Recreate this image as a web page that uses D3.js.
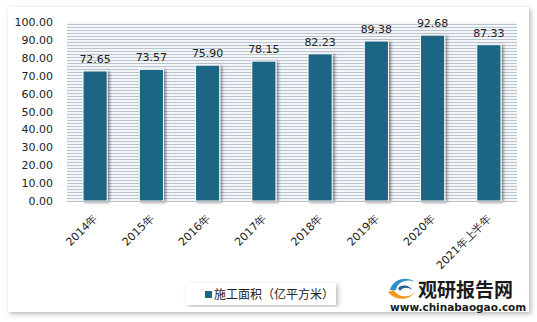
<!DOCTYPE html>
<html>
<head>
<meta charset="utf-8">
<script src="https://cdn.jsdelivr.net/npm/d3@7"></script>
<style>
  body { margin: 0; background: #fff; }
  svg { display: block; }
</style>
</head>
<body>
<div class="chart"></div>
<script>
const years = ["2014年", "2015年", "2016年", "2017年", "2018年", "2019年", "2020年", "2021年上半年"];
const areaValues = [72.65, 73.57, 75.90, 78.15, 82.23, 89.38, 92.68, 87.33];
const yTicks = [0, 10, 20, 30, 40, 50, 60, 70, 80, 90, 100];
const seriesName = "施工面积（亿平方米）";

const w = 537, h = 322;
const plotLeft = 67, plotRight = 517, plotTop = 22, plotBottom = 201;
const barColor = "#1b6585";
const font = "Tahoma, 'DejaVu Sans', sans-serif";

const svg = d3.select(".chart").append("svg")
  .attr("width", w)
  .attr("height", h);

const defs = svg.append("defs");

// card shadow
const cardShadow = defs.append("filter").attr("id", "cardShadow")
  .attr("x", "-5%").attr("y", "-5%").attr("width", "110%").attr("height", "110%");
cardShadow.append("feDropShadow")
  .attr("dx", 2).attr("dy", 2).attr("stdDeviation", 2.5)
  .attr("flood-color", "#000").attr("flood-opacity", 0.28);

// bar shadow
const barShadow = defs.append("filter").attr("id", "barShadow")
  .attr("x", "-30%").attr("y", "-10%").attr("width", "160%").attr("height", "130%");
barShadow.append("feDropShadow")
  .attr("dx", 2).attr("dy", 1).attr("stdDeviation", 1.5)
  .attr("flood-color", "#000").attr("flood-opacity", 0.45);

// striped plot background
const stripes = defs.append("pattern").attr("id", "stripes")
  .attr("patternUnits", "userSpaceOnUse")
  .attr("width", 6).attr("height", 3);
stripes.append("rect").attr("width", 6).attr("height", 3).attr("fill", "#f4f7fa");
stripes.append("rect").attr("y", 0).attr("width", 6).attr("height", 1).attr("fill", "#bcc4cd");

// card
svg.append("rect")
  .attr("x", 8).attr("y", 7)
  .attr("width", 521).attr("height", 305)
  .attr("fill", "#fff")
  .attr("filter", "url(#cardShadow)");

const x = d3.scaleBand()
  .domain(years)
  .range([plotLeft, plotRight])
  .padding(0);

const y = d3.scaleLinear()
  .domain([0, 100])
  .range([plotBottom, plotTop]);

svg.append("rect")
  .attr("x", plotLeft).attr("y", plotTop)
  .attr("width", plotRight - plotLeft).attr("height", plotBottom - plotTop)
  .attr("fill", "url(#stripes)");

// y axis labels
const yAxis = d3.axisLeft(y)
  .tickValues(yTicks)
  .tickSize(0)
  .tickPadding(0)
  .tickFormat(d3.format(".2f"));

svg.append("g")
  .attr("transform", "translate(" + (plotLeft - 14) + ",0)")
  .call(yAxis)
  .call(g => g.select(".domain").remove())
  .selectAll("text")
  .attr("font-family", font)
  .attr("font-size", 11)
  .attr("fill", "#222");

const barW = x.bandwidth() * 0.43;

svg.append("g")
  .selectAll("rect")
  .data(areaValues)
  .enter()
  .append("rect")
  .attr("x", (d, i) => x(years[i]) + (x.bandwidth() - barW) / 2)
  .attr("y", d => y(d))
  .attr("width", barW)
  .attr("height", d => y(0) - y(d))
  .attr("fill", barColor)
  .attr("stroke", "#fff")
  .attr("stroke-width", 1)
  .attr("filter", "url(#barShadow)");

svg.append("g")
  .selectAll("text")
  .data(areaValues)
  .enter()
  .append("text")
  .text(d => d.toFixed(2))
  .attr("x", (d, i) => x(years[i]) + x.bandwidth() / 2)
  .attr("y", d => y(d) - 8)
  .attr("text-anchor", "middle")
  .attr("font-family", font)
  .attr("font-size", 11)
  .attr("fill", "#222");

// x axis baseline
svg.append("line")
  .attr("x1", plotLeft).attr("x2", plotRight)
  .attr("y1", plotBottom + 0.5).attr("y2", plotBottom + 0.5)
  .attr("stroke", "#bfbfbf");

// rotated category labels
svg.append("g")
  .selectAll("text")
  .data(years)
  .enter()
  .append("text")
  .text(d => d)
  .attr("transform", d => "translate(" + (x(d) + x.bandwidth() / 2 + 3) + "," + (plotBottom + 18) + ") rotate(-45)")
  .attr("text-anchor", "end")
  .attr("font-family", font)
  .attr("font-size", 11)
  .attr("fill", "#222");

// legend
const legend = svg.append("g").attr("transform", "translate(186,283)");
legend.append("rect")
  .attr("width", 150).attr("height", 22)
  .attr("fill", "#fff")
  .attr("filter", "url(#cardShadow)");
legend.append("rect")
  .attr("x", 19).attr("y", 8)
  .attr("width", 7).attr("height", 7)
  .attr("fill", barColor);
legend.append("text")
  .text(seriesName)
  .attr("x", 28).attr("y", 16)
  .attr("font-family", "'Noto Sans CJK SC', sans-serif")
  .attr("font-size", 12)
  .attr("fill", "#222");

// watermark
const wm = svg.append("g").attr("transform", "translate(388,276)");
wm.append("path")
  .attr("d", "M2,14 C4,4 18,-1 27,6 C19,2 9,6 8,14 Z")
  .attr("fill", "#2a8fc8");
wm.append("path")
  .attr("d", "M0,16 C6,24 20,26 27,16 C22,22 10,22 6,14 Z")
  .attr("fill", "#f39a1e");
wm.append("path")
  .attr("d", "M10,12 C14,8 22,9 24,14 C20,11 15,11 12,15 Z")
  .attr("fill", "#1c5f8f");
wm.append("text")
  .text("观研报告网")
  .attr("x", 30).attr("y", 21)
  .attr("font-family", "'Noto Sans CJK SC', sans-serif")
  .attr("font-weight", "bold")
  .attr("font-size", 19)
  .attr("fill", "#1a1a1a");
wm.append("text")
  .text("www.chinabaogao.com")
  .attr("x", 2).attr("y", 35)
  .attr("font-family", "'DejaVu Sans', sans-serif")
  .attr("font-weight", "bold")
  .attr("font-size", 10.5)
  .attr("fill", "#1a1a1a");
</script>
</body>
</html>
